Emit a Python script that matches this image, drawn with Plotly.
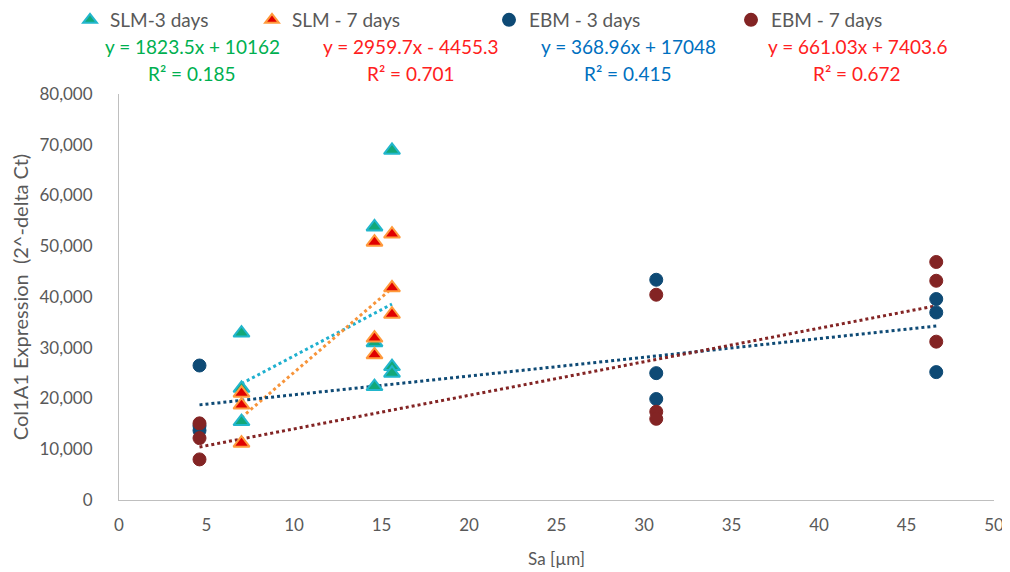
import plotly.graph_objects as go

# ---- data ----
slm3_x = [7.0, 7.0, 7.0, 14.6, 14.6, 14.6, 15.6, 15.6, 15.6]
slm3_y = [32900, 22000, 15450, 53800, 31000, 22350, 68900, 26300, 25000]

slm7_x = [7.0, 7.0, 7.0, 14.6, 14.6, 14.6, 15.6, 15.6, 15.6]
slm7_y = [21050, 18700, 11200, 50800, 31900, 28600, 52400, 41800, 36600]

ebm3_x = [4.6, 4.6, 4.6, 30.7, 30.7, 30.7, 46.7, 46.7, 46.7]
ebm3_y = [26500, 14600, 13700, 43400, 25000, 19900, 39600, 36950, 25200]

ebm7_x = [4.6, 4.6, 4.6, 30.7, 30.7, 30.7, 46.7, 46.7, 46.7]
ebm7_y = [15100, 12200, 8000, 40450, 17400, 16000, 46900, 43200, 31200]

series_names = ["SLM-3 days", "SLM - 7 days", "EBM - 3 days", "EBM - 7 days"]
slopes = [1823.5, 2959.7, 368.96, 661.03]
intercepts = [10162, -4455.3, 17048, 7403.6]
eq_lines = ["y = 1823.5x + 10162", "y = 2959.7x - 4455.3",
            "y = 368.96x + 17048", "y = 661.03x + 7403.6"]
r2_lines = ["R² = 0.185", "R² = 0.701", "R² = 0.415", "R² = 0.672"]

x_ticks = [0, 5, 10, 15, 20, 25, 30, 35, 40, 45, 50]
y_ticks = [0, 10000, 20000, 30000, 40000, 50000, 60000, 70000, 80000]

# ---- styles ----
FONT = "Lato, 'Open Sans', sans-serif"
OFF = 8  # default page body margin
W, H = 1010 - OFF, 572 - OFF
ML, MT = 119 - OFF, 94 - OFF
MR = W - (994 - OFF)
MB = H - (500 - OFF)
PW, PH = W - ML - MR, H - MT - MB

marker_styles = [
    dict(symbol="triangle-up", size=14, color="#12A878", line=dict(color="#22B6CC", width=2)),
    dict(symbol="triangle-up", size=14, color="#E00000", line=dict(color="#FF9A3C", width=2)),
    dict(symbol="circle", size=13, color="#0E4A75", line=dict(color="#0E4A75", width=1)),
    dict(symbol="circle", size=13, color="#832424", line=dict(color="#832424", width=1)),
]
trend_colors = ["#1FB0CF", "#F7943A", "#0E4A75", "#832424"]
eq_colors = ["#00B050", "#FF2020", "#0070C0", "#FF2020"]
legend_names = ["legend", "legend2", "legend3", "legend4"]
legend_px = [70, 252, 489, 731]   # page pixels
eq_px = [192, 411, 628, 857]      # page pixels

xs = [slm3_x, slm7_x, ebm3_x, ebm7_x]
ys = [slm3_y, slm7_y, ebm3_y, ebm7_y]


def px_x(p):
    return (p - OFF - ML) / PW


def px_y(p):
    return (H - MB - (p - OFF)) / PH


fig = go.Figure()

# trend lines (drawn beneath markers)
for i in range(4):
    x0, x1 = min(xs[i]), max(xs[i])
    fig.add_trace(go.Scatter(
        x=[x0, x1], y=[slopes[i] * x0 + intercepts[i], slopes[i] * x1 + intercepts[i]],
        mode="lines", line=dict(color=trend_colors[i], width=3, dash="dot"),
        showlegend=False, hoverinfo="skip"))

for i in range(4):
    fig.add_trace(go.Scatter(
        x=xs[i], y=ys[i], mode="markers", name=series_names[i],
        marker=marker_styles[i], legend=legend_names[i], showlegend=True))

layout_legends = {}
for i in range(4):
    layout_legends[legend_names[i]] = dict(
        x=(legend_px[i] - OFF) / W, y=1 - (20 - OFF) / H, xref="container", yref="container",
        xanchor="left", yanchor="middle", orientation="h",
        font=dict(family=FONT, size=19, color="#595959"),
        bgcolor="rgba(0,0,0,0)", borderwidth=0, itemwidth=30, itemsizing="constant")

annotations = []
for i in range(4):
    annotations.append(dict(
        x=px_x(eq_px[i]), y=px_y(47), xref="paper", yref="paper",
        text=eq_lines[i], showarrow=False, xanchor="center", yanchor="middle",
        font=dict(family=FONT, size=19, color=eq_colors[i])))
    annotations.append(dict(
        x=px_x(eq_px[i]), y=px_y(73), xref="paper", yref="paper",
        text=r2_lines[i], showarrow=False, xanchor="center", yanchor="middle",
        font=dict(family=FONT, size=19, color=eq_colors[i])))

fig.update_layout(
    width=W, height=H,
    margin=dict(l=ML, r=MR, t=MT, b=MB, autoexpand=False),
    paper_bgcolor="white", plot_bgcolor="white",
    font=dict(family=FONT, size=16, color="#595959"),
    annotations=annotations,
    **layout_legends,
)

fig.update_xaxes(
    range=[0, 50], tickvals=x_ticks, ticktext=[str(t) for t in x_ticks],
    showgrid=False, zeroline=False, showline=True, linecolor="#BFBFBF", linewidth=1,
    ticks="", automargin=False, ticklabelstandoff=10,
    tickfont=dict(family=FONT, size=17, color="#595959"),
    title=dict(text="Sa [µm]", font=dict(family=FONT, size=17, color="#595959"), standoff=18))
fig.update_yaxes(
    range=[0, 80000], tickvals=y_ticks, ticktext=[f"{t:,}" for t in y_ticks],
    showgrid=False, zeroline=False, showline=True, linecolor="#BFBFBF", linewidth=1,
    ticks="", automargin=False, ticklabelstandoff=22,
    tickfont=dict(family=FONT, size=17, color="#595959"),
    title=dict(text="Col1A1 Expression  (2^-delta Ct)", font=dict(family=FONT, size=20, color="#595959"),
               standoff=7))

fig.write_html("out.html")
